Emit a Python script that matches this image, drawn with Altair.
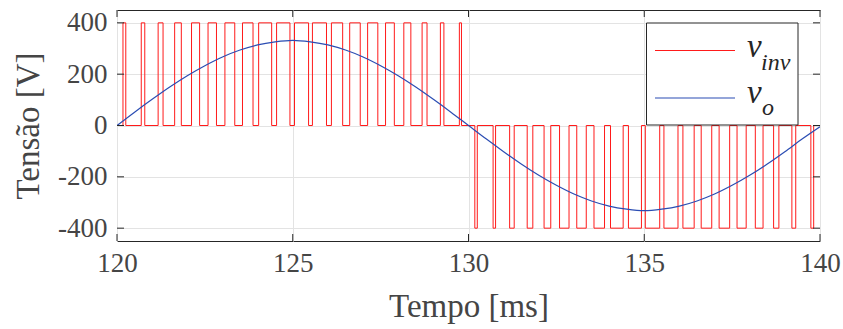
import altair as alt
import pandas as pd

# ---------------- data ----------------
x_ticks = [120, 125, 130, 135, 140]
y_ticks = [-400, -200, 0, 200, 400]

t_vo = [120.0, 120.5, 121.0, 121.5, 122.0, 122.5, 123.0, 123.5, 124.0, 124.5,
        125.0, 125.5, 126.0, 126.5, 127.0, 127.5, 128.0, 128.5, 129.0, 129.5,
        130.0, 130.5, 131.0, 131.5, 132.0, 132.5, 133.0, 133.5, 134.0, 134.5,
        135.0, 135.5, 136.0, 136.5, 137.0, 137.5, 138.0, 138.5, 139.0, 139.5,
        140.0]
vo = [0, 52, 102, 150, 194, 233, 267, 294, 314, 326,
      332, 326, 314, 294, 267, 233, 194, 150, 102, 52,
      0, -52, -102, -150, -194, -233, -267, -294, -314, -326,
      -332, -326, -314, -294, -267, -233, -194, -150, -102, -52,
      -5]

# pulse edges of v_inv [ms]
pos_start = [120.17, 120.69, 121.17, 121.64, 122.12, 122.59, 123.07, 123.57, 124.03, 124.54,
             125.05, 125.56, 126.10, 126.62, 127.13, 127.64, 128.16, 128.68, 129.20, 129.74]
pos_end = [120.25, 120.79, 121.31, 121.83, 122.35, 122.83, 123.35, 123.87, 124.40, 124.92,
           125.45, 125.96, 126.42, 126.92, 127.42, 127.89, 128.36, 128.82, 129.30, 129.80]
neg_start = [130.18, 130.70, 131.17, 131.67, 132.15, 132.59, 133.08, 133.57, 134.04, 134.55,
             135.03, 135.56, 136.10, 136.62, 137.13, 137.64, 138.16, 138.68, 139.20, 139.74]
neg_end = [130.25, 130.77, 131.30, 131.83, 132.34, 132.86, 133.35, 133.87, 134.40, 134.92,
           135.44, 135.96, 136.42, 136.92, 137.43, 137.90, 138.38, 138.83, 139.31, 139.82]
v_pos = 400
v_neg = -400

# ---------------- build tables ----------------
pts = [(120.0, 0)]
for a, b in zip(pos_start, pos_end):
    pts += [(a, 0), (a, v_pos), (b, v_pos), (b, 0)]
for a, b in zip(neg_start, neg_end):
    pts += [(a, 0), (a, v_neg), (b, v_neg), (b, 0)]
pts.append((140.0, 0))
df_inv = pd.DataFrame({"t": [p[0] for p in pts], "v": [p[1] for p in pts],
                       "i": list(range(len(pts)))})
df_vo = pd.DataFrame({"t": t_vo, "v": vo})
df_xt = pd.DataFrame({"t": x_ticks})
df_yt = pd.DataFrame({"v": y_ticks})
df_one = pd.DataFrame({"k": [0]})

FONT = "Liberation Serif"
TXT = "#454545"
AX = "#262626"

W, H = 703, 231

xscale = alt.Scale(domain=[120, 140], nice=False, zero=False)
yscale = alt.Scale(domain=[-450, 450], nice=False)

xaxis = alt.Axis(values=x_ticks, title="Tempo [ms]", grid=True, gridColor="#e3e3e3",
                 ticks=False, tickSize=0, domain=False, labelFont=FONT, titleFont=FONT,
                 labelFontSize=27, titleFontSize=33, titleFontWeight="normal",
                 labelColor=TXT, titleColor=TXT, labelPadding=9, titlePadding=14,
                 labelFlush=False, labelExpr="'' + datum.value")
yaxis = alt.Axis(values=y_ticks, title="Tensão [V]", grid=True, gridColor="#e3e3e3",
                 ticks=False, tickSize=0, domain=False, labelFont=FONT, titleFont=FONT,
                 labelFontSize=27, titleFontSize=33, titleFontWeight="normal",
                 labelColor=TXT, titleColor=TXT, labelPadding=10, titlePadding=12,
                 labelFlush=False, labelExpr="'' + datum.value")

X = alt.X("t:Q", scale=xscale, axis=xaxis)
Y = alt.Y("v:Q", scale=yscale, axis=yaxis)

inv = alt.Chart(df_inv).mark_line(color="#ff1a1a", strokeWidth=1, clip=True).encode(
    x=X, y=Y, order="i:Q")
vo_line = alt.Chart(df_vo).mark_line(color="#2b4db3", strokeWidth=1.2,
                                     interpolate="monotone", clip=True).encode(x=X, y=Y)

tick_len = 7
xt_bot = alt.Chart(df_xt).mark_rule(color=AX, strokeWidth=1).encode(
    x=X, y=alt.value(H), y2=alt.value(H - tick_len))
xt_top = alt.Chart(df_xt).mark_rule(color=AX, strokeWidth=1).encode(
    x=X, y=alt.value(0), y2=alt.value(tick_len))
yt_left = alt.Chart(df_yt).mark_rule(color=AX, strokeWidth=1).encode(
    y=Y, x=alt.value(0), x2=alt.value(tick_len))
yt_right = alt.Chart(df_yt).mark_rule(color=AX, strokeWidth=1).encode(
    y=Y, x=alt.value(W), x2=alt.value(W - tick_len))

# legend box (drawn by hand)
leg_box = alt.Chart(df_one).mark_rect(fill="white", stroke=AX, strokeWidth=1).encode(
    x=alt.value(529.5), x2=alt.value(681), y=alt.value(13), y2=alt.value(115))
leg_red = alt.Chart(df_one).mark_rule(color="#ff1a1a", strokeWidth=1).encode(
    x=alt.value(538), x2=alt.value(618), y=alt.value(40.5))
leg_blue = alt.Chart(df_one).mark_rule(color="#2b4db3", strokeWidth=1.2).encode(
    x=alt.value(538), x2=alt.value(618), y=alt.value(88))


def txt(s, x, y, size):
    return alt.Chart(df_one).mark_text(text=s, font=FONT, fontStyle="italic", fontSize=size,
                                       align="left", baseline="alphabetic", color=AX).encode(
        x=alt.value(x), y=alt.value(y))


leg_t = [txt("v", 630, 47, 33), txt("inv", 644, 60, 24),
         txt("v", 630, 93, 33), txt("o", 645, 105, 24)]

chart = alt.layer(inv, vo_line, xt_bot, xt_top, yt_left, yt_right,
                  leg_box, leg_red, leg_blue, *leg_t).properties(
    width=W, height=H,
    padding={"left": 117, "top": 10, "right": 23, "bottom": 88},
    autosize=alt.AutoSizeParams(type="none"),
    background="white",
).configure_view(stroke=AX, strokeWidth=1)

chart.save("out.html", embed_options={"renderer": "svg", "actions": False})
